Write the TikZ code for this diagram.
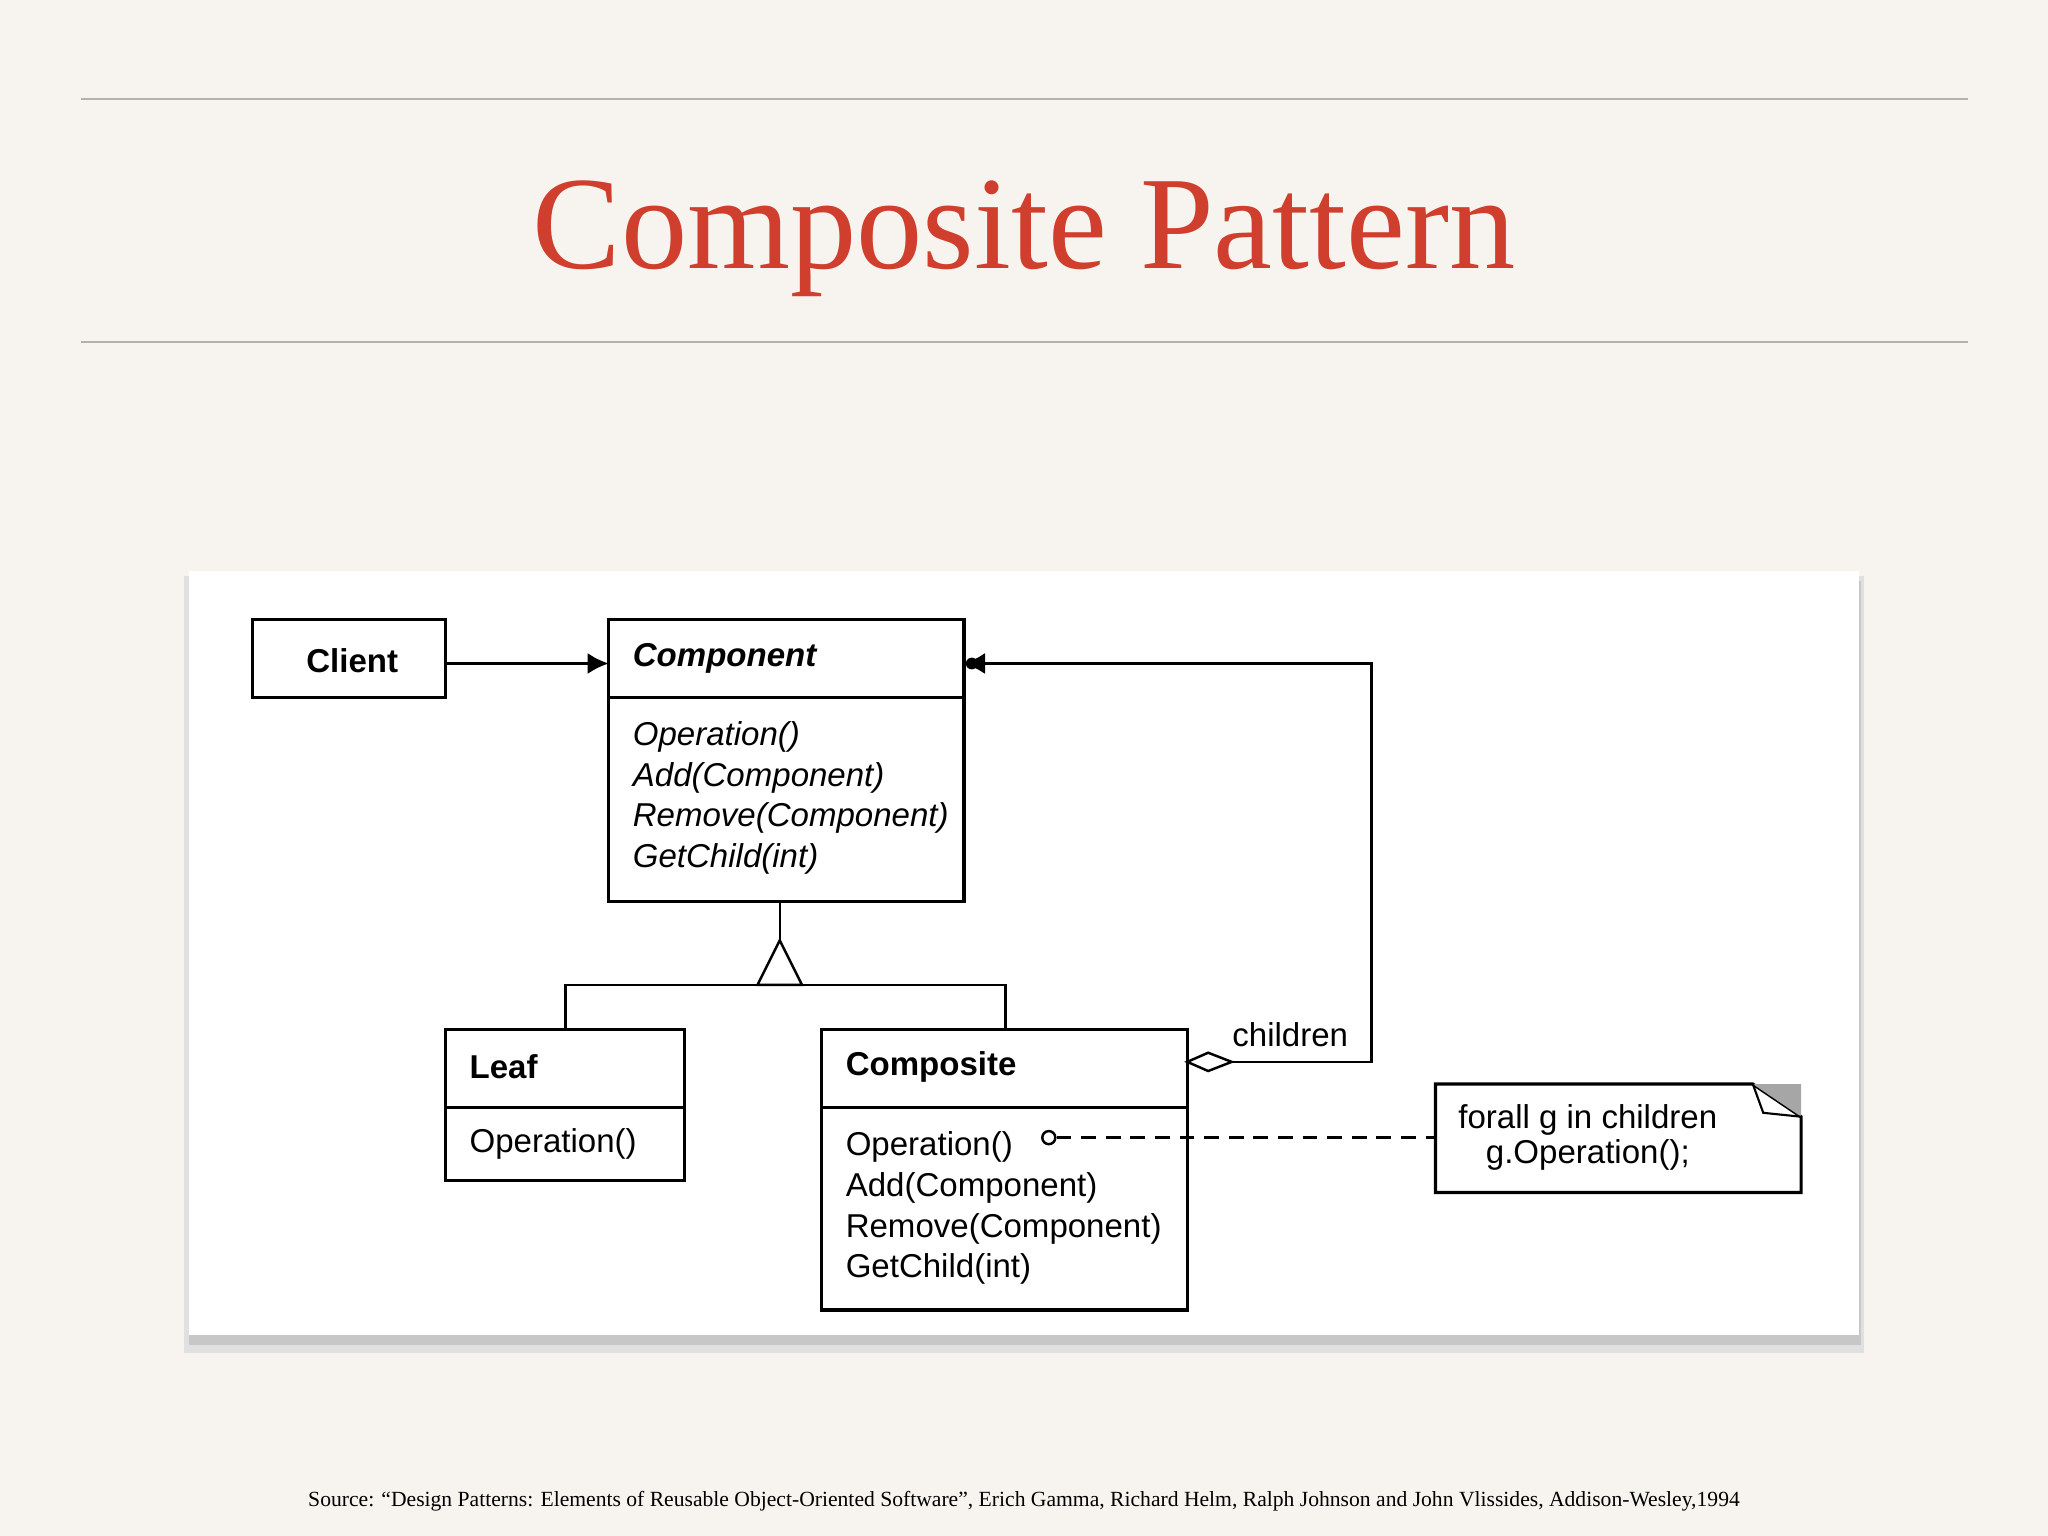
\documentclass[tikz,border=0pt]{standalone}
\usepackage{fontspec}
\setmainfont{Liberation Sans}
\newfontfamily\titlefont{Liberation Serif}
\usetikzlibrary{arrows.meta,shapes.geometric}
\definecolor{bg}{HTML}{F7F4EF}
\definecolor{titlered}{HTML}{D03F2E}
\begin{document}
\begin{tikzpicture}[x=0.013061cm,y=-0.013061cm,
  box/.style={draw,line width=0.9pt},
  txt/.style={anchor=west,inner sep=0,font=\fontsize{9.4}{10}\selectfont},
  btxt/.style={txt,font=\fontsize{9.4}{10}\selectfont\bfseries},
  ln/.style={line width=0.7pt},
  fa/.style={-{Latex[length=6pt,width=6pt]}}]
\useasboundingbox (0,0) rectangle (1568,1176);
\fill[bg] (0,0) rectangle (1568,1176);
\draw[gray!60,line width=0.5pt] (62,76) -- (1507,76) (62,262) -- (1507,262);
\node[text=titlered,font=\titlefont\fontsize{37.7}{42}\selectfont] (title) at (784,183) {Composite Pattern};
\fill[black!12] (141,441) rectangle (1427,1036);
\fill[black!22] (145,445) rectangle (1425,1030);
\fill[white] (145,437) rectangle (1423,1022);
% boxes
\draw[box] (193,474) rectangle (341,534);
\node[btxt] (client) at (234,506) {Client};
\coordinate (clientE) at (341,508);
\draw[box] (466,474) rectangle (738,690);
\draw[box] (466,534) -- (738,534);
\node[txt,font=\fontsize{9.4}{10}\selectfont\bfseries\itshape] (comp) at (484,504) {Component};
\node[txt,font=\fontsize{9.4}{10}\selectfont\itshape,align=left] (compops) at (484,611) {Operation()\\[1.6pt]Add(Component)\\[1.6pt]Remove(Component)\\[1.6pt]GetChild(int)};
\coordinate (compW) at (466,508);
\coordinate (compE) at (738,508);
\coordinate (compS) at (597,690);
\draw[box] (341,788) rectangle (524,904);
\draw[box] (341,848) -- (524,848);
\node[btxt] (leaf) at (359,817) {Leaf};
\node[txt] (leafop) at (359,876) {Operation()};
\draw[box] (629,788) rectangle (909,1003);
\draw[box] (629,848) -- (909,848);
\node[btxt] (composite) at (647,817) {Composite};
\node[txt,align=left] (compositeops) at (647,925) {Operation()\\[1.6pt]Add(Component)\\[1.6pt]Remove(Component)\\[1.6pt]GetChild(int)};
% note
\draw[box] (1099,830) -- (1342,830) -- (1379,855) -- (1379,913) -- (1099,913) -- cycle;
\fill[gray!70] (1342,830) -- (1379,830) -- (1379,855) -- cycle;
\draw[line width=0.6pt] (1342,830) -- (1350,852) -- (1379,855);
\node[txt,align=center] (note) at (1116,871) {forall g in children\\g.Operation();};
% connectors
\draw[ln,fa] (clientE) -- (compW);
\draw[ln] (compS) -- (597,720);
\draw[ln,fill=white] (597,720) -- (614,754) -- (580,754) -- cycle;
\draw[ln] (433,788) -- (433,754) -- (770,754) -- (770,788);
\draw[ln,fa] (909,813) ++(34,0) -- (1050,813) -- (1050,508) -- (compE);
\fill (744,508) circle (4.5);
\draw[ln,fill=white] (909,813) -- (925,806) -- (943,813) -- (925,820) -- cycle;
\node[txt] (children) at (943,792) {children};
\draw[ln,dash pattern=on 4.2pt off 2.8pt] (809,871) -- (1099,871);
\draw[ln,fill=white] (803,871) circle (5);
\node[font=\titlefont\fontsize{6.15}{7}\selectfont] (src) at (784,1149) {Source: “Design Patterns: Elements of Reusable Object-Oriented Software”, Erich Gamma, Richard Helm, Ralph Johnson and John Vlissides, Addison-Wesley,1994};
\end{tikzpicture}
\end{document}
